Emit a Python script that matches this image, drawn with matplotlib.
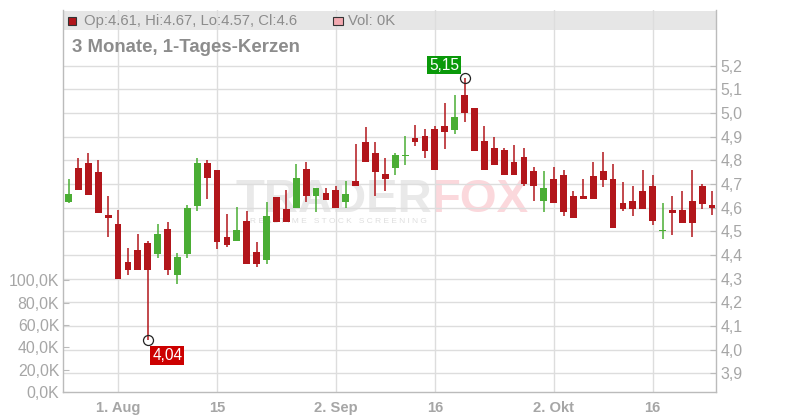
import numpy as np
import pandas as pd
import matplotlib as mpl
mpl.use("Agg")
import matplotlib.pyplot as plt
from matplotlib.ticker import FuncFormatter
from matplotlib.patches import Rectangle

plt.rcParams['font.family'] = ['Liberation Sans', 'DejaVu Sans']

#colors
col_up    = '#4AAD34'
col_down  = '#B2161B'
col_grid  = '#DDDDDD'
col_axis  = '#BBBBBB'
col_text  = '#A6A6A6'
col_head  = '#8C8C8C'

#data: daily candles, 25.07.2024 - 24.10.2024
dates = pd.bdate_range('2024-07-25', '2024-10-24')
opens = [4.625, 4.768, 4.789, 4.751, 4.569, 4.531, 4.370, 4.421, 4.451, 4.406,
         4.510, 4.317, 4.406, 4.608, 4.789, 4.759, 4.477, 4.460, 4.543, 4.412,
         4.380, 4.644, 4.593, 4.599, 4.762, 4.649, 4.661, 4.673, 4.626, 4.711,
         4.879, 4.833, 4.741, 4.768, 4.820, 4.894, 4.903, 4.933, 4.945, 4.930,
         5.077, 5.022, 4.882, 4.852, 4.843, 4.792, 4.813, 4.754, 4.628, 4.723,
         4.740, 4.651, 4.651, 4.732, 4.753, 4.723, 4.621, 4.630, 4.672, 4.693,
         4.502, 4.592, 4.592, 4.630, 4.693, 4.61]
highs = [4.721, 4.810, 4.831, 4.801, 4.649, 4.590, 4.430, 4.489, 4.459, 4.531,
         4.539, 4.408, 4.610, 4.810, 4.801, 4.760, 4.572, 4.602, 4.585, 4.454,
         4.623, 4.644, 4.673, 4.783, 4.791, 4.682, 4.682, 4.690, 4.711, 4.871,
         4.942, 4.879, 4.812, 4.833, 4.901, 4.950, 4.933, 4.944, 5.043, 5.077,
         5.150, 5.022, 4.944, 4.899, 4.852, 4.865, 4.852, 4.771, 4.754, 4.770,
         4.761, 4.672, 4.723, 4.791, 4.834, 4.783, 4.710, 4.693, 4.761, 4.740,
         4.621, 4.651, 4.672, 4.761, 4.702, 4.67]
lows = [4.618, 4.673, 4.655, 4.579, 4.477, 4.297, 4.317, 4.338, 4.040, 4.389,
        4.317, 4.279, 4.389, 4.587, 4.638, 4.427, 4.432, 4.460, 4.363, 4.351,
        4.363, 4.540, 4.540, 4.599, 4.626, 4.582, 4.634, 4.599, 4.599, 4.693,
        4.794, 4.649, 4.670, 4.738, 4.779, 4.860, 4.809, 4.760, 4.848, 4.911,
        4.961, 4.840, 4.760, 4.779, 4.737, 4.737, 4.692, 4.628, 4.581, 4.619,
        4.566, 4.558, 4.638, 4.638, 4.689, 4.515, 4.587, 4.566, 4.596, 4.528,
        4.469, 4.486, 4.537, 4.477, 4.596, 4.57]
closes = [4.658, 4.675, 4.655, 4.579, 4.558, 4.297, 4.338, 4.338, 4.338, 4.489,
          4.338, 4.392, 4.597, 4.789, 4.727, 4.456, 4.443, 4.505, 4.363, 4.363,
          4.564, 4.540, 4.540, 4.724, 4.649, 4.682, 4.634, 4.599, 4.658, 4.693,
          4.794, 4.752, 4.723, 4.822, 4.822, 4.879, 4.840, 4.760, 4.921, 4.984,
          5.002, 4.840, 4.760, 4.779, 4.737, 4.737, 4.700, 4.692, 4.682, 4.619,
          4.580, 4.558, 4.638, 4.638, 4.719, 4.515, 4.596, 4.596, 4.596, 4.545,
          4.503, 4.579, 4.537, 4.537, 4.617, 4.60]
last_vol = 0

price_ticks = np.round(np.arange(39, 53) / 10.0, 1)
vol_ticks = [0, 20000, 40000, 60000, 80000, 100000]
date_ticks = ['2024-08-01', '2024-08-15', '2024-09-02', '2024-09-16', '2024-10-02', '2024-10-16']
date_labels = ['1. Aug', '15', '2. Sep', '16', '2. Okt', '16']

opens = np.array(opens); highs = np.array(highs)
lows = np.array(lows); closes = np.array(closes)
x = np.arange(len(dates))
up = closes >= opens
colors = np.where(up, col_up, col_down)

#create figure
W, H = 800, 420
fig = plt.figure(figsize=(W/100, H/100), dpi=100)
ax = fig.add_axes([63.3/W, 28/H, (716-63.3)/W, 382/H])
axv = ax.twinx()   # volume axis, labels on the left
ax.set_xlim(-0.53, 65.4)
ax.set_ylim(3.8209, 5.4354)

#candles
ax.vlines(x, lows, highs, colors=colors, linewidth=1.1, zorder=2)
body = np.maximum(np.abs(closes - opens), 0.004)
ax.bar(x, body, bottom=np.minimum(opens, closes) - (body - np.abs(closes - opens))/2,
       width=0.68, color=colors, linewidth=0, zorder=3)

#min / max markers
imax = int(np.argmax(highs)); imin = int(np.argmin(lows))
ax.plot([imax, imin], [highs[imax], lows[imin]], 'o', mfc='none', mec='#222222',
        ms=7.2, mew=0.9, zorder=5)
ax.annotate(f'{highs[imax]:.2f}'.replace('.', ','), xy=(imax, highs[imax]),
            xytext=(-14.8, 9), textcoords='offset points', ha='center', va='center',
            color='white', fontsize=11.2,
            bbox=dict(boxstyle='square,pad=0.12', fc='#0A990A', ec='none'), zorder=6)
ax.annotate(f'{lows[imin]:.2f}'.replace('.', ','), xy=(imin, lows[imin]),
            xytext=(14, -10.8), textcoords='offset points', ha='center', va='center',
            color='white', fontsize=11.2,
            bbox=dict(boxstyle='square,pad=0.12', fc='#CC0000', ec='none'), zorder=6)

#grid and axes
ax.set_axisbelow(True)
ax.grid(True, color=col_grid, linewidth=1.0)
ax.set_yticks(price_ticks)
ax.yaxis.set_major_formatter(FuncFormatter(lambda v, p: f'{v:.1f}'.replace('.', ',')))
ax.tick_params(axis='y', left=False, labelleft=False, right=True, labelright=True,
               direction='in', length=4, color=col_axis, labelcolor=col_text,
               labelsize=11.4, pad=3)
ax.set_xticks(dates.get_indexer(pd.to_datetime(date_ticks)))
ax.set_xticklabels(date_labels, fontweight='bold')
ax.tick_params(axis='x', length=0, labelcolor=col_text, labelsize=10.6, pad=6.5)
ax.spines['top'].set_visible(False)
for s in ('left', 'right', 'bottom'):
    ax.spines[s].set_color(col_axis)
    ax.spines[s].set_linewidth(1.0)

axv.set_ylim(0, 342600)
axv.set_yticks(vol_ticks)
axv.yaxis.set_major_formatter(FuncFormatter(lambda v, p: f'{v/1000:.1f}K'.replace('.', ',')))
axv.tick_params(axis='y', left=True, labelleft=True, right=False, labelright=False,
                direction='in', length=4, color=col_axis, labelcolor=col_text,
                labelsize=11.4, pad=3)
for s in axv.spines.values():
    s.set_visible(False)

#header band
ax.add_patch(Rectangle((0, (392-30.3)/382), 1, 19.6/382, transform=ax.transAxes,
                       fc='#E6E6E6', ec='none', zorder=0.2))

#watermark
ax.text(432/W, 1-211.5/H, 'TRADER', transform=fig.transFigure, ha='right', va='baseline',
        fontsize=34, fontweight='bold', color='#E9E9E9', zorder=0.3)
ax.text(432/W, 1-211.5/H, 'FOX', transform=fig.transFigure, ha='left', va='baseline',
        fontsize=34, fontweight='bold', color='#FBD8DC', zorder=0.3)
ax.text(250/W, 1-221.5/H, 'R E A L T I M E   S T O C K   S C R E E N I N G',
        transform=fig.transFigure, ha='left', va='center', fontsize=6,
        color='#DEDEDE', zorder=0.3)

#header legend
fig.add_artist(Rectangle((68/W, 1-25/H), 8/W, 8/H, transform=fig.transFigure,
                         fc=col_down, ec='#333333', lw=0.8))
fig.text(84/W, 1-21/H, f'Op:{opens[-1]:g}, Hi:{highs[-1]:g}, Lo:{lows[-1]:g}, Cl:{closes[-1]:g}',
         ha='left', va='center', fontsize=10.7, color=col_head)
fig.add_artist(Rectangle((333/W, 1-25/H), 9.5/W, 8/H, transform=fig.transFigure,
                         fc='#F2A9B0', ec='#333333', lw=0.8))
fig.text(348/W, 1-21/H, f'Vol: {last_vol}K', ha='left', va='center', fontsize=10.7,
         color=col_head)
fig.text(72/W, 1-47.5/H, '3 Monate, 1-Tages-Kerzen', ha='left', va='center',
         fontsize=13.4, fontweight='bold', color=col_head)

fig.savefig('out.png', dpi=100)
